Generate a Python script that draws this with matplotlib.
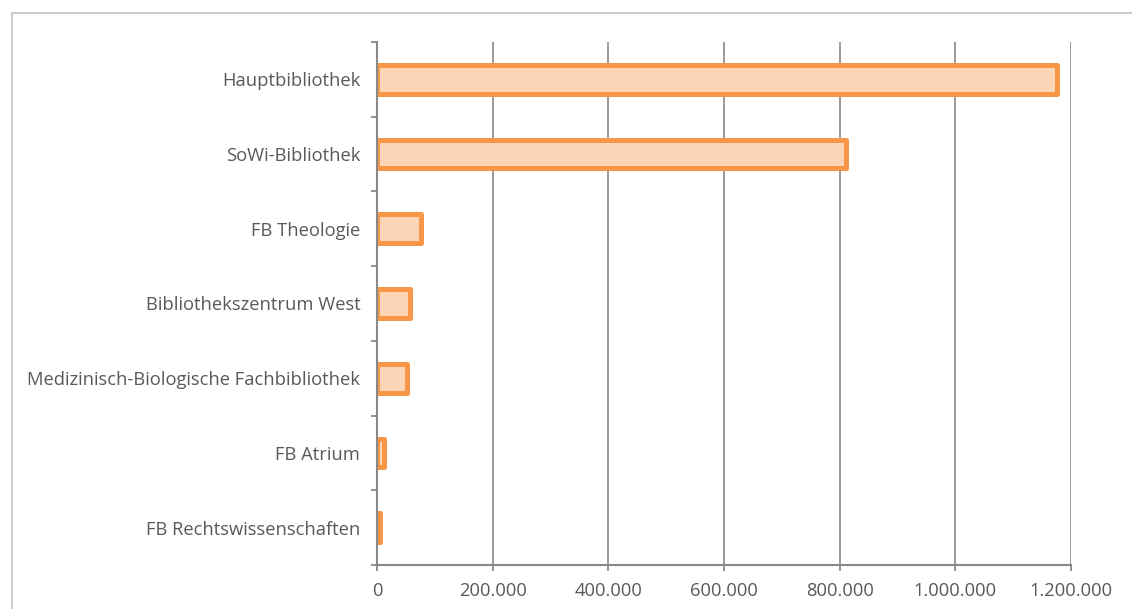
import numpy as np
import matplotlib.pyplot as plt
from matplotlib.lines import Line2D
from matplotlib.ticker import FuncFormatter

# Bestand je Bibliothek
standorte = ['Hauptbibliothek', 'SoWi-Bibliothek', 'FB Theologie',
             'Bibliothekszentrum West', 'Medizinisch-Biologische Fachbibliothek',
             'FB Atrium', 'FB Rechtswissenschaften']
bestand = [1175000, 811000, 76000, 57000, 52000, 12000, 5000]
xticks = [0, 200000, 400000, 600000, 800000, 1000000, 1200000]

plt.rcParams['font.family'] = ['Open Sans', 'DejaVu Sans']
textcol = '#595959'
axcol = '#898989'

fig = plt.figure(figsize=(11.32, 6.09), dpi=100)
ax = fig.add_axes([377/1132, 1-565/609, (1071-377)/1132, (565-42)/609])

y = np.arange(len(standorte))
ax.barh(y, bestand, height=0.385, color='#fbd5b5', edgecolor='#f79646',
        linewidth=3.6, joinstyle='round', zorder=2)

ax.set_xlim(0, 1200000)
ax.set_ylim(len(standorte)-0.5, -0.5)

# x-Achse mit Punkt als Tausendertrenner
ax.set_xticks(xticks)
ax.xaxis.set_major_formatter(FuncFormatter(lambda v, p: f'{int(v):,}'.replace(',', '.')))
ax.grid(axis='x', color=axcol, linewidth=1.2, zorder=0)
ax.set_axisbelow(True)

# y-Achse: Striche an den Grenzen, Beschriftung in der Mitte
ax.set_yticks(np.arange(-0.5, len(standorte)), [''] * (len(standorte)+1))
ax.set_yticks(y, standorte, minor=True)
ax.tick_params(axis='y', which='major', length=4, width=1.3, color=axcol, direction='out')
ax.tick_params(axis='y', which='minor', length=0, pad=12, labelsize=13.2, labelcolor=textcol)
ax.tick_params(axis='x', length=4, width=1.3, color=axcol, pad=8, labelsize=13.2, labelcolor=textcol)

for s in ['top', 'right']:
    ax.spines[s].set_visible(False)
for s in ['left', 'bottom']:
    ax.spines[s].set_color(axcol)
    ax.spines[s].set_linewidth(1.5)
    ax.spines[s].set_zorder(3)

# Rahmen um das Diagramm
fc = '#c6c6c6'
fig.add_artist(Line2D([11.5/1132, 11.5/1132], [0, 1-13/609], color=fc, lw=1.3))
fig.add_artist(Line2D([11.5/1132, 1], [1-13/609, 1-13/609], color=fc, lw=1.3))

fig.savefig('out.png', dpi=100)
